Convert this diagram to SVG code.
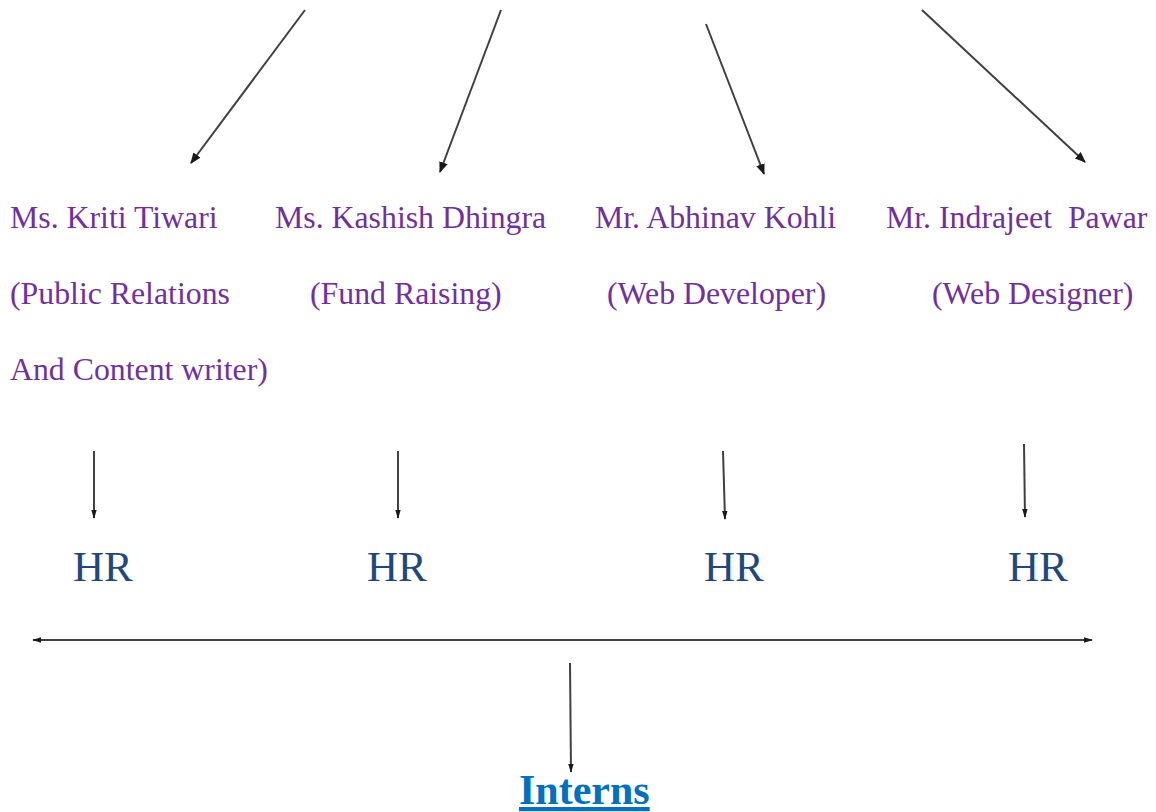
<svg xmlns="http://www.w3.org/2000/svg" width="1156" height="812" viewBox="0 0 1156 812">
<defs>
<style>
.p{font-family:"Liberation Serif","Times New Roman",serif;font-size:31.8px;fill:#7030A0;white-space:pre}
.hr{font-family:"Liberation Serif","Times New Roman",serif;font-size:43px;fill:#1F497D}
.in{font-family:"Liberation Serif","Times New Roman",serif;font-size:42px;font-weight:bold;fill:#0070C0;text-decoration:underline}
.c{stroke:#404040;stroke-width:2;fill:none}
</style>
<marker id="ah" viewBox="0 0 10 8" refX="9" refY="4" markerWidth="11" markerHeight="9" markerUnits="userSpaceOnUse" orient="auto-start-reverse">
<path d="M0,0 L10,4 L0,8 Z" fill="#1a1a1a"/>
</marker>
<marker id="as" viewBox="0 0 10 6" refX="9" refY="3" markerWidth="9" markerHeight="6" markerUnits="userSpaceOnUse" orient="auto-start-reverse">
<path d="M0,0 L10,3 L0,6 Z" fill="#1a1a1a"/>
</marker>
</defs>
<rect width="1156" height="812" fill="#ffffff"/>
<g id="connectors">
<line class="c" x1="305" y1="10" x2="191" y2="163" marker-end="url(#ah)"/>
<line class="c" x1="501" y1="10" x2="440" y2="172" marker-end="url(#ah)"/>
<line class="c" x1="706" y1="24" x2="764" y2="174" marker-end="url(#ah)"/>
<line class="c" x1="922" y1="10" x2="1085" y2="162" marker-end="url(#ah)"/>
<line class="c" x1="94" y1="451" x2="94" y2="518" marker-end="url(#as)"/>
<line class="c" x1="398" y1="451" x2="398" y2="518" marker-end="url(#as)"/>
<line class="c" x1="723" y1="451" x2="725" y2="519" marker-end="url(#as)"/>
<line class="c" x1="1024" y1="444" x2="1025" y2="517" marker-end="url(#as)"/>
<line class="c" x1="33" y1="640" x2="1092" y2="640" marker-start="url(#as)" marker-end="url(#as)"/>
<line class="c" x1="570" y1="663" x2="571" y2="772" marker-end="url(#as)"/>
</g>
<g id="n-kriti">
<text class="p" x="10" y="228">Ms. Kriti Tiwari</text>
<text class="p" x="10" y="304">(Public Relations</text>
<text class="p" x="10" y="380">And Content writer)</text>
</g>
<g id="n-kashish">
<text class="p" x="275" y="228">Ms. Kashish Dhingra</text>
<text class="p" x="310" y="304">(Fund Raising)</text>
</g>
<g id="n-abhinav">
<text class="p" x="595" y="228">Mr. Abhinav Kohli</text>
<text class="p" x="607" y="304">(Web Developer)</text>
</g>
<g id="n-indrajeet">
<text class="p" x="886" y="228" xml:space="preserve">Mr. Indrajeet  Pawar</text>
<text class="p" x="932" y="304">(Web Designer)</text>
</g>
<g id="n-hr1"><text class="hr" x="73" y="581">HR</text></g>
<g id="n-hr2"><text class="hr" x="367" y="581">HR</text></g>
<g id="n-hr3"><text class="hr" x="704" y="581">HR</text></g>
<g id="n-hr4"><text class="hr" x="1008" y="581">HR</text></g>
<g id="n-interns"><text class="in" x="519" y="804">Interns</text></g>
</svg>
